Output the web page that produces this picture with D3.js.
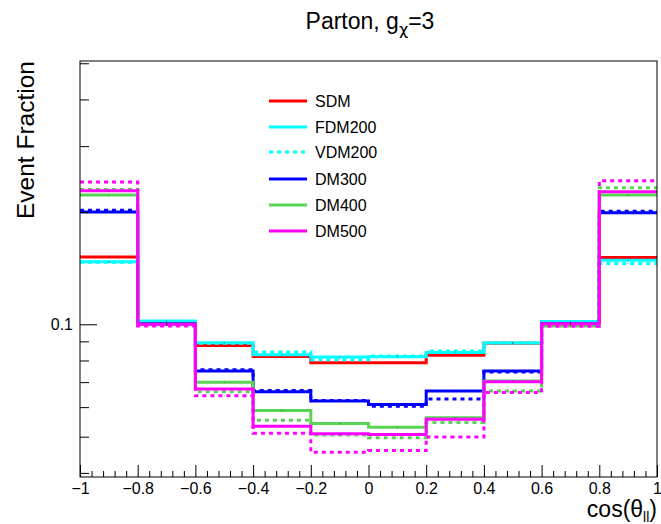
<!DOCTYPE html>
<html>
<head>
<meta charset="utf-8">
<script src="https://cdn.jsdelivr.net/npm/d3@7"></script>
<style>
  html, body { margin: 0; padding: 0; background: #fff; }
  svg { display: block; font-family: "Liberation Sans", Arial, Helvetica, sans-serif; }
</style>
</head>
<body>
<svg id="chart" width="661" height="524"></svg>
<script>
// ---------------- data ----------------
const binEdges = [-1, -0.8, -0.6, -0.4, -0.2, 0, 0.2, 0.4, 0.6, 0.8, 1];
const SDM    = [0.1515, 0.1005, 0.0878, 0.0820, 0.0789, 0.0789, 0.0826, 0.0889, 0.1008, 0.1510];
const FDM200 = [0.1470, 0.1020, 0.0893, 0.0829, 0.0817, 0.0818, 0.0840, 0.0891, 0.1017, 0.1484];
const VDM200 = [0.1466, 0.1015, 0.0890, 0.0843, 0.0804, 0.0822, 0.0848, 0.0893, 0.1012, 0.1455];
const DM300  = [0.1997, 0.1003, 0.0750, 0.0660, 0.0623, 0.0610, 0.0663, 0.0750, 0.1005, 0.1989];
const VDM300 = [0.2021, 0.1002, 0.0756, 0.0665, 0.0625, 0.0603, 0.0631, 0.0745, 0.1003, 0.2009];
const DM400  = [0.2218, 0.1000, 0.0699, 0.0588, 0.0542, 0.0530, 0.0562, 0.0705, 0.1000, 0.2218];
const VDM400 = [0.2297, 0.0994, 0.0660, 0.0553, 0.0505, 0.0497, 0.0546, 0.0663, 0.0990, 0.2320];
const DM500  = [0.2278, 0.1000, 0.0671, 0.0533, 0.0509, 0.0507, 0.0557, 0.0702, 0.1004, 0.2264];
const VDM500 = [0.2403, 0.0990, 0.0644, 0.0511, 0.0454, 0.0459, 0.0499, 0.0657, 0.0988, 0.2422];

const seriesNames  = ["SDM", "FDM200", "VDM200", "DM300", "VDM300", "DM400", "VDM400", "DM500", "VDM500"];
const seriesValues = [SDM, FDM200, VDM200, DM300, VDM300, DM400, VDM400, DM500, VDM500];
const seriesColors = ["#ff0000", "#00ffff", "#00ffff", "#0000ff", "#0000ff", "#59d454", "#59d454", "#ff00ff", "#ff00ff"];
const seriesDashed = [false, false, true, false, true, false, true, false, true];

const legendNames = ["SDM", "FDM200", "VDM200", "DM300", "DM400", "DM500"];

const xTickValues = [-1, -0.8, -0.6, -0.4, -0.2, 0, 0.2, 0.4, 0.6, 0.8, 1];
const xTickLabels = ["\u22121", "\u22120.8", "\u22120.6", "\u22120.4", "\u22120.2", "0", "0.2", "0.4", "0.6", "0.8", "1"];
const yMajorTicks = [0.1];
const yMajorLabels = ["0.1"];
const yMinorTicks = [0.04, 0.05, 0.06, 0.07, 0.08, 0.09, 0.2, 0.3, 0.4, 0.5];
const yDomain = [0.039, 0.507];

// ---------------- layout ----------------
const W = 661, H = 524;
const m = { left: 80, right: 4, top: 61, bottom: 47 };
const x0 = m.left, x1 = W - m.right, y0 = m.top, y1 = H - m.bottom;

const svg = d3.select("#chart");
const x = d3.scaleLinear().domain([-1, 1]).range([x0, x1]);
const y = d3.scaleLog().domain(yDomain).range([y1, y0]);

// clip
svg.append("defs").append("clipPath").attr("id", "clip")
  .append("rect").attr("x", x0).attr("y", y0).attr("width", x1 - x0).attr("height", y1 - y0);

// ---------------- histograms ----------------
const line = d3.line().x(d => x(d[0])).y(d => y(d[1])).curve(d3.curveStepAfter);
const gH = svg.append("g").attr("clip-path", "url(#clip)");
seriesValues.forEach((vals, i) => {
  const pts = vals.map((v, k) => [binEdges[k], v]);
  pts.push([binEdges[binEdges.length - 1], vals[vals.length - 1]]);
  gH.append("path")
    .attr("d", line(pts))
    .attr("fill", "none")
    .attr("stroke", seriesColors[i])
    .attr("stroke-width", 3)
    .attr("stroke-dasharray", seriesDashed[i] ? "4,4" : null);
});
// tiny bin-centre markers
seriesValues.forEach((vals) => {
  gH.append("g").selectAll("rect").data(vals).join("rect")
    .attr("x", (v, k) => x((binEdges[k] + binEdges[k + 1]) / 2) - 0.5)
    .attr("y", v => y(v) - 0.5)
    .attr("width", 1).attr("height", 1)
    .attr("fill", "#333").attr("opacity", 0.6);
});

// ---------------- axes ----------------
const axisColor = "#000";
const xMinor = d3.range(-1, 1.0001, 0.04).filter(v => xTickValues.every(t => Math.abs(t - v) > 1e-6));
const gx = svg.append("g").attr("transform", `translate(0,${y1})`)
  .call(d3.axisBottom(x).tickValues(xTickValues).tickSize(-12).tickPadding(6)
        .tickFormat((d, i) => xTickLabels[i]));
gx.select(".domain").remove();
gx.selectAll(".tick line").attr("stroke", axisColor);
gx.selectAll("text").attr("font-size", 16).attr("fill", "#000");
const gxm = svg.append("g").attr("transform", `translate(0,${y1})`)
  .call(d3.axisBottom(x).tickValues(xMinor).tickSize(-6).tickFormat(""));
gxm.select(".domain").remove();

const gy = svg.append("g").attr("transform", `translate(${x0},0)`)
  .call(d3.axisLeft(y).tickValues(yMajorTicks).tickSize(-17).tickPadding(7)
        .tickFormat((d, i) => yMajorLabels[i]));
gy.select(".domain").remove();
gy.selectAll("text").attr("font-size", 16).attr("fill", "#000");
const gym = svg.append("g").attr("transform", `translate(${x0},0)`)
  .call(d3.axisLeft(y).tickValues(yMinorTicks).tickSize(-9).tickFormat(""));
gym.select(".domain").remove();

// frame
svg.append("rect").attr("x", x0).attr("y", y0).attr("width", x1 - x0).attr("height", y1 - y0)
  .attr("fill", "none").attr("stroke", "#000").attr("stroke-width", 1);

// ---------------- titles ----------------
const title = svg.append("text").attr("x", 370).attr("y", 29).attr("text-anchor", "middle")
  .attr("font-size", 23).attr("fill", "#000");
title.append("tspan").text("Parton, g");
title.append("tspan").attr("font-size", 16).attr("dy", 6)
  .attr("font-family", "'DejaVu Sans', sans-serif").text("\u03c7");
title.append("tspan").attr("dy", -6).text("=3");

const xt = svg.append("text").attr("x", x1).attr("y", 517).attr("text-anchor", "end")
  .attr("font-size", 23).attr("fill", "#000");
xt.append("tspan").text("cos(\u03b8");
xt.append("tspan").attr("font-size", 14).attr("dy", 5).text("ll");
xt.append("tspan").attr("dy", -5).text(")");

svg.append("text").attr("transform", `translate(34,${y0}) rotate(-90)`)
  .attr("text-anchor", "end").attr("font-size", 24.5).attr("fill", "#000")
  .text("Event Fraction");

// ---------------- legend ----------------
const legRows = [101, 127, 152, 179, 205, 231];
const legIdx = legendNames.map(n => seriesNames.indexOf(n));
const gl = svg.append("g");
legendNames.forEach((n, i) => {
  const si = legIdx[i];
  gl.append("line").attr("x1", 269).attr("x2", 307).attr("y1", legRows[i]).attr("y2", legRows[i])
    .attr("stroke", seriesColors[si]).attr("stroke-width", 3)
    .attr("stroke-dasharray", seriesDashed[si] ? "4,4" : null);
  gl.append("text").attr("x", 315).attr("y", legRows[i]).attr("dy", "0.36em")
    .attr("font-size", 16).attr("fill", "#000").text(n);
});
</script>
</body>
</html>
